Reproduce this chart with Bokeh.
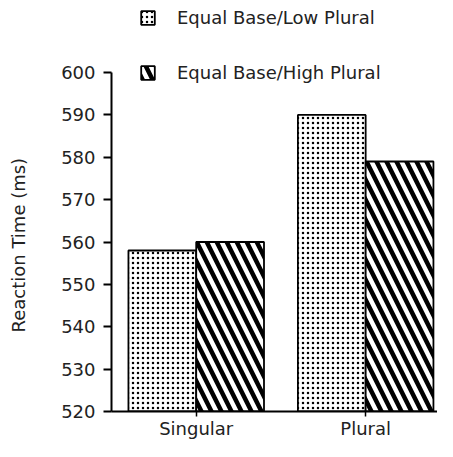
from bokeh.plotting import figure
from bokeh.models import (ColumnDataSource, Range1d, FixedTicker, Legend, LegendItem,
                          Title, LinearAxis)
from bokeh.embed import file_html
from bokeh.resources import INLINE

categories = ["Singular", "Plural"]
series_names = ["Equal Base/Low Plural", "Equal Base/High Plural"]
low_plural = [558, 590]
high_plural = [560, 579]
y_ticks = [520, 530, 540, 550, 560, 570, 580, 590, 600]
y_label = "Reaction Time (ms)"

FONT = "DejaVu Sans"

pos = [i + 1 for i in range(len(categories))]
src_low = ColumnDataSource(dict(x=[p_ - 0.2 for p_ in pos], top=low_plural))
src_high = ColumnDataSource(dict(x=[p_ + 0.2 for p_ in pos], top=high_plural))

p = figure(width=437, height=441, output_backend="svg", toolbar_location=None,
           x_range=Range1d(0.5, 2.424), y_range=Range1d(520, 617),
           min_border_top=0, min_border_right=0, min_border_left=0, min_border_bottom=0)
p.outline_line_color = None
p.grid.visible = False

r_low = p.vbar(x="x", top="top", bottom=520, width=0.4, source=src_low,
               fill_color="white", line_color="black", line_width=1.8,
               hatch_pattern="dot", hatch_color="black", hatch_scale=5, hatch_weight=1.6)
r_high = p.vbar(x="x", top="top", bottom=520, width=0.4, source=src_high,
                fill_color="white", line_color="black", line_width=1.8,
                hatch_pattern="left_diagonal_line", hatch_color="black",
                hatch_scale=20, hatch_weight=4.5)

# y axis
ya = p.yaxis[0]
ya.ticker = FixedTicker(ticks=y_ticks)
ya.bounds = (520, 600)
ya.major_label_text_font = FONT
ya.major_label_text_font_size = "18px"
ya.major_label_text_color = "#222222"
ya.major_label_standoff = 8
ya.major_tick_out = 8
ya.major_tick_in = 0
ya.minor_tick_out = 0
ya.minor_tick_in = 0
ya.axis_line_width = 2
ya.major_tick_line_width = 2

# invisible spacer between tick labels and the axis title
spacer = LinearAxis(ticker=FixedTicker(ticks=[610]), major_label_overrides={610: ""},
                    major_tick_out=21, major_tick_in=0,
                    minor_tick_out=0, minor_tick_in=0, major_label_standoff=0,
                    major_label_text_font_size="1px",
                    axis_line_alpha=0, major_tick_line_alpha=0)
p.add_layout(spacer, "left")

ytitle = Title(text=y_label, align="left", vertical_align="top", offset=79, standoff=14,
               text_font=FONT, text_font_size="18px", text_font_style="normal",
               text_color="#222222")
p.add_layout(ytitle, "left")

# x axis
xa = p.xaxis[0]
xa.ticker = FixedTicker(ticks=pos)
xa.major_label_overrides = {pv: c for pv, c in zip(pos, categories)}
xa.major_label_text_font = FONT
xa.major_label_text_font_size = "18px"
xa.major_label_text_color = "#222222"
xa.major_label_standoff = 1
xa.major_tick_out = 5
xa.major_tick_in = 0
xa.minor_tick_out = 0
xa.minor_tick_in = 0
xa.axis_line_width = 2
xa.major_tick_line_width = 1.5

legend = Legend(items=[LegendItem(label=series_names[0], renderers=[r_low]),
                       LegendItem(label=series_names[1], renderers=[r_high])],
                location=(28, 328), margin=0, padding=0, spacing=34,
                glyph_width=17, glyph_height=17, label_standoff=21,
                label_text_font=FONT, label_text_font_size="18px",
                label_text_color="#222222",
                border_line_color=None, background_fill_alpha=0)
p.add_layout(legend)

open("out.html", "w").write(file_html(p, INLINE))
